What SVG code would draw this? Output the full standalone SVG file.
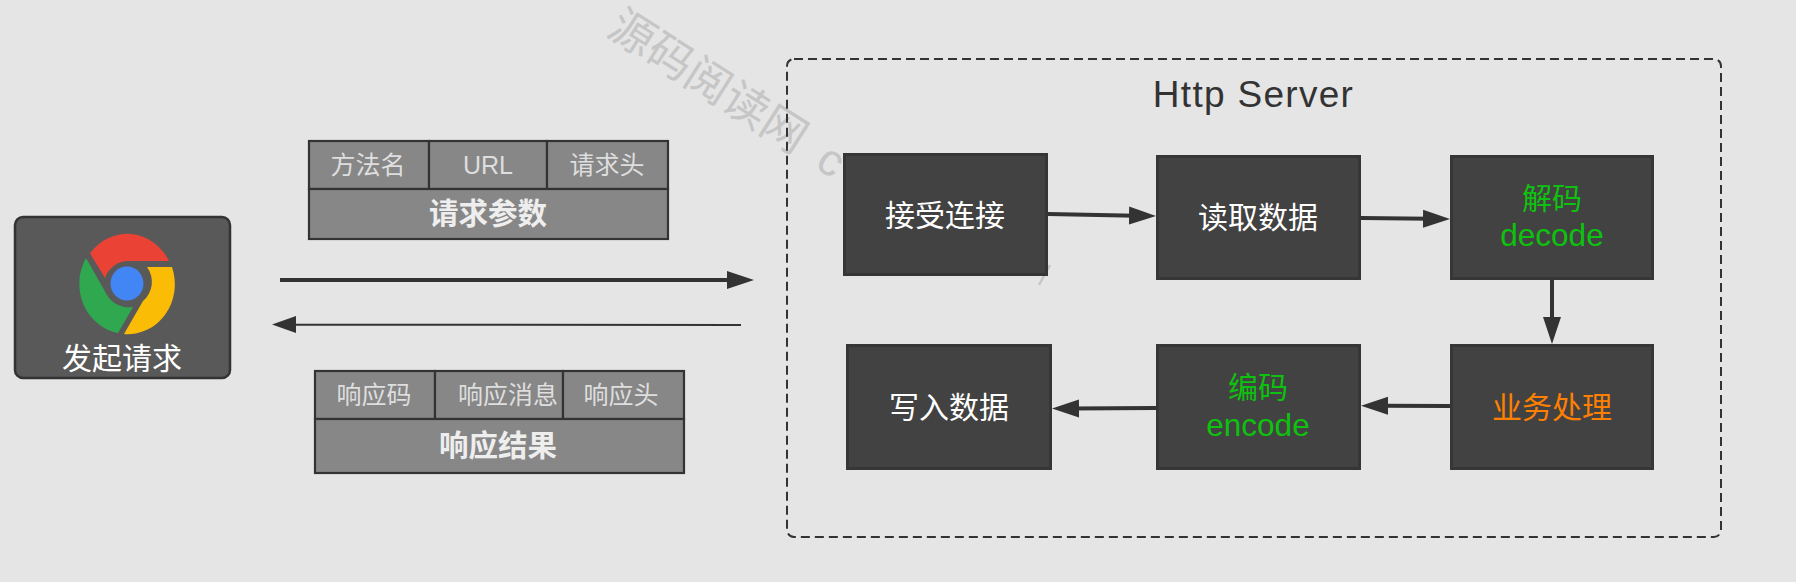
<svg xmlns="http://www.w3.org/2000/svg" width="1796" height="582" viewBox="0 0 1796 582">
<style>
text{font-family:"Liberation Sans","Noto Sans CJK SC",sans-serif;text-anchor:middle}
.n rect{fill:#424242;stroke:#363636;stroke-width:3}
.w{fill:#fff;font-size:30px}
.g{fill:#0fc10f;font-size:30px}
.l{font-size:31.5px}
.o{fill:#ff8000;font-size:30px}
.cell{fill:#878787;stroke:#333;stroke-width:2.2}
.c{fill:#dedede;font-size:25px}
.h{fill:#eee;font-size:29.5px;font-weight:bold}
.a{stroke:#333;stroke-width:4;fill:none;marker-end:url(#ah)}
.wm{fill:#c6c6c6;font-size:45px;text-anchor:start;word-spacing:10px}
</style>
<defs>
<marker id="ah" markerUnits="userSpaceOnUse" markerWidth="28" markerHeight="20" refX="7" refY="10" orient="auto"><path d="M0,1L27,10L0,19Z" fill="#333"/></marker>
</defs>
<rect width="1796" height="582" fill="#e5e5e5"/>
<g id="watermark">
<text class="wm" transform="translate(605,34) rotate(32.5)">源码阅读网 c</text>
<path d="M1050,265L1039,285" stroke="#c6c6c6" stroke-width="2.500" fill="none"/>
</g>
<g id="http-server">
<rect x="787" y="59" width="934" height="478" rx="7" fill="none" stroke="#333" stroke-width="2" stroke-dasharray="9 5"/>
<text x="1253.500" y="107" font-size="37" fill="#333" letter-spacing="1.3">Http Server</text>
</g>
<g id="client">
<rect x="15" y="217" width="215" height="161" rx="8" fill="#595959" stroke="#333" stroke-width="2.500"/>
<g id="chrome-icon">
<path d="M90,253.300A47,50 0 0 1 169,261L127,261A25,25 0 0 0 105,278Z" fill="#ea4335"/>
<path d="M86,258L107,295A25,25 0 0 0 133,307L118,333A47,50 0 0 1 86,258Z" fill="#2fa84f"/>
<path d="M147,267L172,267A47,50 0 0 1 124,334L143,301A25,25 0 0 0 147,267Z" fill="#fbbc05"/>
<ellipse cx="127" cy="283.500" rx="16.500" ry="17" fill="#4285f4"/>
</g>
<text class="w" x="122" y="369">发起请求</text>
</g>
<g id="request-params">
<rect class="cell" x="309" y="141" width="120" height="48"/>
<rect class="cell" x="429" y="141" width="118" height="48"/>
<rect class="cell" x="547" y="141" width="121" height="48"/>
<rect class="cell" x="309" y="189" width="359" height="50"/>
<text class="c" x="368" y="174">方法名</text>
<text class="c" x="488" y="174">URL</text>
<text class="c" x="607" y="174">请求头</text>
<text class="h" x="488" y="224">请求参数</text>
</g>
<g id="response-result">
<rect class="cell" x="315" y="371" width="120" height="48"/>
<rect class="cell" x="435" y="371" width="128" height="48"/>
<rect class="cell" x="563" y="371" width="121" height="48"/>
<rect class="cell" x="315" y="419" width="369" height="54"/>
<text class="c" x="374" y="404">响应码</text>
<text class="c" x="508" y="404">响应消息</text>
<text class="c" x="621" y="404">响应头</text>
<text class="h" x="498" y="456">响应结果</text>
</g>
<g id="accept" class="n"><rect x="844.500" y="154.500" width="202" height="120"/><text class="w" x="945" y="226">接受连接</text></g>
<g id="read" class="n"><rect x="1157.500" y="156.500" width="202" height="122"/><text class="w" x="1258" y="228">读取数据</text></g>
<g id="decode" class="n"><rect x="1451.500" y="156.500" width="201" height="122"/><text class="g" x="1552" y="209">解码</text><text class="g l" x="1552" y="246">decode</text></g>
<g id="business" class="n"><rect x="1451.500" y="345.500" width="201" height="123"/><text class="o" x="1552" y="418">业务处理</text></g>
<g id="encode" class="n"><rect x="1157.500" y="345.500" width="202" height="123"/><text class="g" x="1258" y="398">编码</text><text class="g l" x="1258" y="436">encode</text></g>
<g id="write" class="n"><rect x="847.500" y="345.500" width="203" height="123"/><text class="w" x="949" y="418">写入数据</text></g>
<g id="connectors">
<line class="a" x1="280" y1="280" x2="734" y2="280"/>
<line x1="741" y1="325" x2="290" y2="324.700" stroke="#333" stroke-width="2"/>
<path d="M296,316L272,324.500L296,333Z" fill="#333"/>
<line class="a" x1="1048" y1="214" x2="1136" y2="215.700"/>
<line class="a" x1="1361" y1="218" x2="1430" y2="218.800"/>
<line class="a" x1="1552" y1="280" x2="1552" y2="324"/>
<line class="a" x1="1450" y1="406" x2="1381" y2="405.800"/>
<line class="a" x1="1156" y1="408" x2="1072" y2="408.500"/>
</g>
</svg>
